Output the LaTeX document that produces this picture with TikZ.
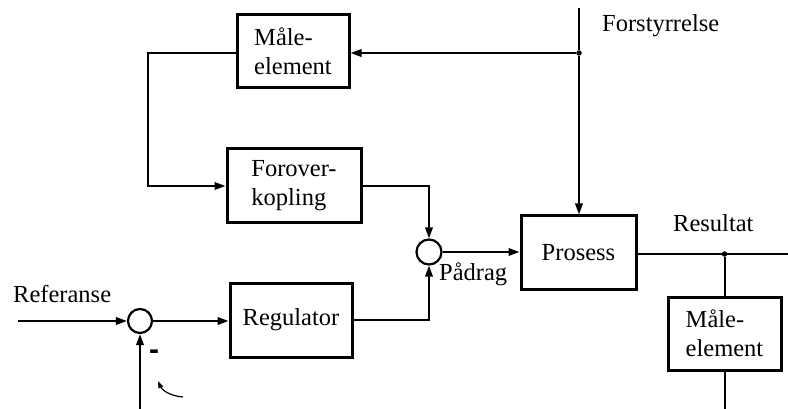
\documentclass[tikz,border=0pt]{standalone}
\usepackage{fontspec}
\setmainfont{Liberation Serif}
\newfontfamily\minusfont{Liberation Sans}
\usetikzlibrary{arrows.meta}
\begin{document}
\begin{tikzpicture}[x=1pt,y=-1pt,
  every node/.style={font=\fontsize{24.5}{29}\selectfont},
  blockbox/.style={draw,line width=3pt,rectangle,inner sep=0pt,align=left},
  sumnode/.style={draw,line width=2.2pt,circle,inner sep=0pt,minimum size=24pt},
  conn/.style={line width=2pt},
  arr/.style={conn,-{Triangle[length=11pt,width=7.5pt]}},
  junction/.style={circle,fill,inner sep=0pt,minimum size=5.5pt},
  lbl/.style={anchor=base west,inner sep=0pt}]
\useasboundingbox (0,0) rectangle (788,409);
% blocks
\node[blockbox,minimum width=112pt,minimum height=73pt] (me1) at (293,51.5) {Måle-\\element};
\node[blockbox,minimum width=134pt,minimum height=74pt] (fk) at (294,186) {Forover-\\kopling};
\node[blockbox,minimum width=122pt,minimum height=74pt] (reg) at (291,320) {Regulator};
\node[blockbox,minimum width=115pt,minimum height=73pt] (pro) at (578.5,252.5) {Prosess};
\node[blockbox,minimum width=113pt,minimum height=73pt] (me2) at (724.5,333.5) {Måle-\\element};
% summation points
\node[sumnode] (s1) at (140,321) {};
\node[sumnode,minimum size=25pt] (s2) at (429,252) {};
% coordinates
\coordinate (ftop) at (579,8);
\node[junction] (fdot) at (579,53) {};
\coordinate (c1) at (148,53);
\coordinate (c2) at (148,186);
\coordinate (resend) at (788,254);
\node[junction] (rdot) at (724.5,254) {};
\coordinate (me2end) at (724.5,409);
\coordinate (refstart) at (18,321);
\coordinate (fbstart) at (140,409);
\coordinate (cs) at (183,397);
\coordinate (ce) at (158,381);
% labels
\node[lbl] (lforst) at (602,32) {Forstyrrelse};
\node[lbl] (lres) at (673,232) {Resultat};
\node[lbl] (lref) at (13,302) {Referanse};
\node[lbl] (lpad) at (439,280) {Pådrag};
\node[inner sep=0pt,font=\minusfont\fontsize{30}{30}\selectfont\bfseries] (minus) at (154,355) {-};
% connectors
\draw[conn] (ftop) -- (fdot);
\draw[arr] (fdot) -- (pro.north -| fdot);
\draw[arr] (fdot) -- (fdot -| me1.east);
\draw[arr] (me1.west |- c1) -- (c1) -- (c2) -- (fk.west |- c2);
\draw[arr] (fk.east) -| (s2.north);
\draw[arr] (reg.east) -| (s2.south);
\draw[arr] (s2.east) -- (pro.west |- s2.east);
\draw[conn] (pro.east |- resend) -- (resend);
\draw[conn] (rdot) -- (me2.north);
\draw[conn] (me2.south) -- (me2end);
\draw[arr] (refstart) -- (s1.west);
\draw[arr] (s1.east) -- (reg.west |- s1.east);
\draw[arr] (fbstart) -- (s1.south);
\draw[line width=1.2pt,-{Triangle[length=7pt,width=5pt]}] (cs) .. controls (170,396) and (162,390) .. (ce);
\end{tikzpicture}
\end{document}
